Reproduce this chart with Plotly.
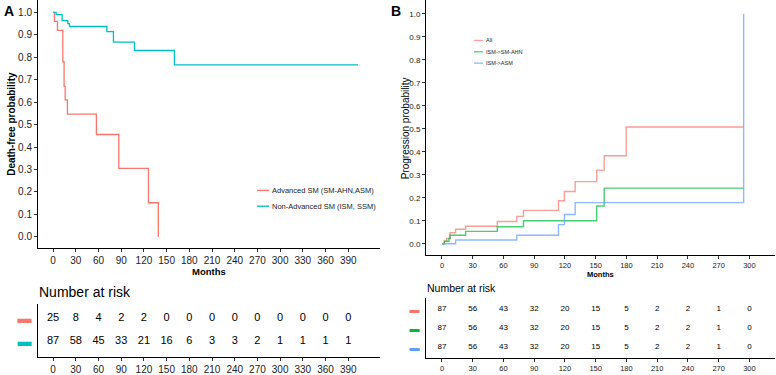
import plotly.graph_objects as go

W, H = 776, 375

# ---------------- Panel A data (overall survival) ----------------
adv_t = [0, 1.7, 5.7, 12.8, 14.5, 15.9, 18.9, 57.2, 86.8, 126, 139]
adv_s = [1.0, 0.96, 0.92, 0.78, 0.67, 0.61, 0.547, 0.456, 0.305, 0.152, 0.0]
non_t = [0, 4, 11.9, 19.4, 21.6, 71, 79.7, 107.5, 160.3, 403]
non_s = [1.0, 0.99, 0.963, 0.95, 0.937, 0.914, 0.867, 0.83, 0.766, 0.766]

risk_times_a = list(range(0, 391, 30))
risk_adv = [25, 8, 4, 2, 2, 0, 0, 0, 0, 0, 0, 0, 0, 0]
risk_non = [87, 58, 45, 33, 21, 16, 6, 3, 3, 2, 1, 1, 1, 1]

# ---------------- Panel B data (progression) ----------------
all_t = [0, 2.3, 4.6, 7.8, 13.3, 23.1, 54, 73, 79.5, 113.7, 119.5, 130, 151, 158.3, 179.8, 294.4]
all_p = [0, 0.011, 0.023, 0.048, 0.063, 0.076, 0.097, 0.119, 0.145, 0.187, 0.227, 0.27, 0.32, 0.383, 0.508, 0.508]
ahn_t = [0, 2.3, 6.8, 7.8, 23.1, 54, 79.5, 151, 158.3, 294.4]
ahn_p = [0, 0.011, 0.023, 0.037, 0.054, 0.074, 0.1, 0.164, 0.242, 0.242]
asm_t = [0, 13.3, 73, 113.7, 119.5, 130, 294.4, 294.4]
asm_p = [0, 0.016, 0.037, 0.083, 0.127, 0.179, 0.179, 1.0]

risk_times_b = list(range(0, 301, 30))
risk_b_all = [87, 56, 43, 32, 20, 15, 5, 2, 2, 1, 0]
risk_b_ahn = [87, 56, 43, 32, 20, 15, 5, 2, 2, 1, 0]
risk_b_asm = [87, 56, 43, 32, 20, 15, 5, 2, 2, 1, 0]

legend_a = ["Advanced SM (SM-AHN,ASM)", "Non-Advanced SM (ISM, SSM)"]
legend_b = ["All", "ISM->SM-AHN", "ISM->ASM"]

yticks = [i / 10 for i in range(11)]

RED, CYAN, GREEN, BLUE = "#F8766D", "#00BFC4", "#00BA38", "#619CFF"
FONT = "Liberation Sans, Arial, sans-serif"


def px_x(p):
    return p / W


def px_y(p):
    return 1 - p / H


fig = go.Figure()

# Panel A curves
fig.add_trace(go.Scatter(x=adv_t, y=adv_s, mode="lines", line=dict(color=RED, width=1.3, shape="hv"),
                         name=legend_a[0], xaxis="x", yaxis="y", showlegend=False))
fig.add_trace(go.Scatter(x=non_t, y=non_s, mode="lines", line=dict(color=CYAN, width=1.3, shape="hv"),
                         name=legend_a[1], xaxis="x", yaxis="y", showlegend=False))

# Panel A risk table
fig.add_trace(go.Scatter(x=risk_times_a, y=[1] * len(risk_adv), text=[str(v) for v in risk_adv],
                         mode="text", textfont=dict(size=11, color="black", family=FONT),
                         xaxis="x2", yaxis="y2", showlegend=False, cliponaxis=False))
fig.add_trace(go.Scatter(x=risk_times_a, y=[0] * len(risk_non), text=[str(v) for v in risk_non],
                         mode="text", textfont=dict(size=11, color="black", family=FONT),
                         xaxis="x2", yaxis="y2", showlegend=False, cliponaxis=False))

# Panel B curves
fig.add_trace(go.Scatter(x=all_t, y=all_p, mode="lines", line=dict(color=RED, width=1.4, shape="hv"),
                         opacity=0.7, name=legend_b[0], xaxis="x3", yaxis="y3", showlegend=False))
fig.add_trace(go.Scatter(x=ahn_t, y=ahn_p, mode="lines", line=dict(color=GREEN, width=1.4, shape="hv"),
                         opacity=0.7, name=legend_b[1], xaxis="x3", yaxis="y3", showlegend=False))
fig.add_trace(go.Scatter(x=asm_t, y=asm_p, mode="lines", line=dict(color=BLUE, width=1.4, shape="hv"),
                         opacity=0.7, name=legend_b[2], xaxis="x3", yaxis="y3", showlegend=False))

# Panel B risk table
for row, vals in zip([2, 1, 0], [risk_b_all, risk_b_ahn, risk_b_asm]):
    fig.add_trace(go.Scatter(x=risk_times_b, y=[row] * len(vals), text=[str(v) for v in vals],
                             mode="text", textfont=dict(size=8, color="black", family=FONT),
                             xaxis="x4", yaxis="y4", showlegend=False, cliponaxis=False))

axis_common = dict(showline=True, linecolor="black", linewidth=1, showgrid=False, zeroline=False,
                   ticks="outside", ticklen=3, tickcolor="#333333", fixedrange=True)

xA_dom = [px_x(38), px_x(380)]
xB_dom = [px_x(426), px_x(775)]


def swatch(c, size):
    return f"<span style='color:{c};font-size:{size}px'>▬</span>"


def ann(text, x, y, size, xanchor="center", yanchor="middle", angle=0, color="black"):
    return dict(text=text, x=px_x(x), y=px_y(y), xref="paper", yref="paper", xanchor=xanchor,
                yanchor=yanchor, textangle=angle, showarrow=False, font=dict(size=size, color=color))


annotations = [
    ann("<b>A</b>", 2, 1, 14, xanchor="left", yanchor="top"),
    ann("<b>B</b>", 389, 1, 14, xanchor="left", yanchor="top"),
    ann("<b>Death-free probability</b>", 12, 125.5, 10, angle=-90),
    ann("<b>Months</b>", 209, 275, 9.5),
    ann("Number at risk", 37, 296, 14, xanchor="left"),
    ann("Progression probability", 405, 130, 10, angle=-90),
    ann("<b>Months</b>", 600.5, 278.5, 7.5),
    ann("Number at risk", 425, 292, 10.5, xanchor="left"),
]
shapes = []

# legend keys (panel A)
for i, (lab, col) in enumerate(zip(legend_a, [RED, CYAN])):
    yy = 193 + 16 * i
    shapes.append(dict(type="line", xref="paper", yref="paper", x0=px_x(257), x1=px_x(269),
                       y0=px_y(yy), y1=px_y(yy), line=dict(color=col, width=1.3)))
    annotations.append(ann(lab, 269.5, yy, 7.5, xanchor="left", color="#222222"))
# legend keys (panel B)
for i, (lab, col) in enumerate(zip(legend_b, [RED, GREEN, BLUE])):
    yy = 41 + 11.5 * i
    shapes.append(dict(type="line", xref="paper", yref="paper", x0=px_x(474), x1=px_x(483),
                       y0=px_y(yy), y1=px_y(yy), line=dict(color=col, width=1.3), opacity=0.7))
    annotations.append(ann(lab, 483.5, yy, 5.5, xanchor="left", color="#222222"))

fig.update_layout(
    width=W, height=H, margin=dict(l=0, r=0, t=0, b=0),
    paper_bgcolor="white", plot_bgcolor="white",
    font=dict(family=FONT, color="#222222"),
    showlegend=False,
    xaxis=dict(domain=xA_dom, range=[-20, 432], anchor="y", tickvals=risk_times_a,
               tickfont=dict(size=10), **axis_common),
    yaxis=dict(domain=[px_y(251), 1], range=[-0.048, 1.055], anchor="x", tickvals=yticks,
               ticktext=[f"{v:.1f}" for v in yticks], tickfont=dict(size=10), **axis_common),
    xaxis2=dict(domain=xA_dom, range=[-20, 432], anchor="y2", tickvals=risk_times_a,
                tickfont=dict(size=10), **axis_common),
    yaxis2=dict(domain=[px_y(362), px_y(308)], range=[-0.7, 1.65], anchor="x2",
                tickvals=[1, 0], ticktext=[swatch(RED, 14), swatch(CYAN, 14)],
                showline=True, linecolor="black", linewidth=1, showgrid=False, zeroline=False,
                ticks="", ticklabelstandoff=3, fixedrange=True),
    xaxis3=dict(domain=xB_dom, range=[-15.6, 325], anchor="y3", tickvals=risk_times_b,
                tickfont=dict(size=7.5), **axis_common),
    yaxis3=dict(domain=[px_y(258.7), 1], range=[-0.05, 1.06], anchor="x3", tickvals=yticks,
                ticktext=[f"{v:.1f}" for v in yticks], tickfont=dict(size=8), **axis_common),
    xaxis4=dict(domain=xB_dom, range=[-15.6, 325], anchor="y4", tickvals=risk_times_b,
                tickfont=dict(size=7.5), **axis_common),
    yaxis4=dict(domain=[px_y(362.7), px_y(301.7)], range=[-0.55, 2.58], anchor="x4",
                tickvals=[2, 1, 0], ticktext=[swatch(RED, 10), swatch(GREEN, 10), swatch(BLUE, 10)],
                showline=True, linecolor="black", linewidth=1, showgrid=False, zeroline=False,
                ticks="", ticklabelstandoff=3, fixedrange=True),
    annotations=annotations,
    shapes=shapes,
)

fig.write_html("out.html", config={"displayModeBar": False},
               post_script="document.body.style.margin='0';document.body.style.overflow='hidden';")
